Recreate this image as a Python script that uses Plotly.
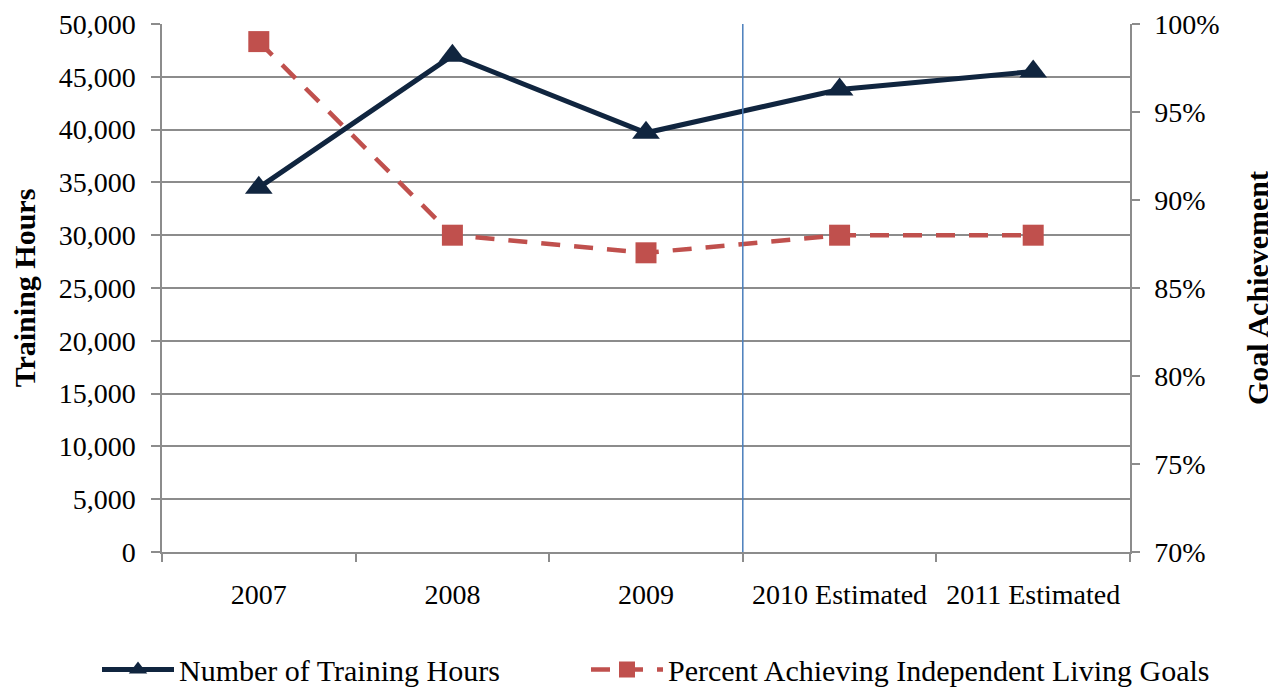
import plotly.graph_objects as go

categories = ["2007", "2008", "2009", "2010 Estimated", "2011 Estimated"]
training_hours = [34500, 47000, 39700, 43800, 45500]
goal_pct = [0.99, 0.88, 0.87, 0.88, 0.88]

FONT = "Liberation Serif, Times New Roman, serif"
NAVY = "#10253f"
RED = "#c0504d"
GRID = "#8c8c8c"

fig = go.Figure()
fig.add_trace(go.Scatter(
    x=categories, y=training_hours, name="Number of Training Hours",
    mode="lines+markers",
    line=dict(color=NAVY, width=5),
    marker=dict(symbol="triangle-up", size=24, color=NAVY),
    yaxis="y", legend="legend",
))
fig.add_trace(go.Scatter(
    x=categories, y=goal_pct, name="Percent Achieving Independent Living Goals",
    mode="lines+markers",
    line=dict(color=RED, width=4.5, dash="19px,14px"),
    marker=dict(symbol="square", size=21, color=RED),
    yaxis="y2", legend="legend2",
))

fig.add_shape(type="line", xref="x", yref="paper", x0=2.5, x1=2.5, y0=0, y1=1,
              line=dict(color="#4a7ebb", width=1.5))

legend_common = dict(orientation="h", xref="container", yref="container",
                     xanchor="left", y=0.037, yanchor="middle",
                     font=dict(family=FONT, size=30, color="black"),
                     itemwidth=72, bgcolor="rgba(0,0,0,0)")

fig.update_layout(
    width=1276, height=687,
    margin=dict(l=154, r=154, t=16, b=143, autoexpand=False),
    paper_bgcolor="white", plot_bgcolor="white",
    font=dict(family=FONT, size=28, color="black"),
    showlegend=True,
    legend=dict(x=89 / 1276, **legend_common),
    legend2=dict(x=578 / 1276, **legend_common),
    xaxis=dict(
        type="category", range=[-0.5, 4.5], automargin=False,
        showgrid=False, showline=True, linecolor=GRID, linewidth=1.5,
        ticks="outside", tickson="boundaries", ticklen=8, tickcolor=GRID, tickwidth=1.5,
        ticklabelstandoff=17,
        tickfont=dict(family=FONT, size=28),
    ),
    yaxis=dict(
        range=[0, 50000], dtick=5000, tickformat=",", automargin=False,
        showgrid=True, gridcolor=GRID, gridwidth=1.5,
        showline=True, linecolor=GRID, linewidth=1.5,
        ticks="outside", ticklen=9, tickcolor=GRID, tickwidth=1.5,
        ticklabelstandoff=10,
        zeroline=False,
        tickfont=dict(family=FONT, size=28),
        title=dict(text="<b>Training Hours</b>", font=dict(family=FONT, size=30), standoff=20),
    ),
    yaxis2=dict(
        overlaying="y", side="right", automargin=False,
        range=[0.70, 1.00], dtick=0.05, tickformat=".0%",
        showgrid=False, showline=True, linecolor=GRID, linewidth=1.5,
        ticks="outside", ticklen=8, tickcolor=GRID, tickwidth=1.5,
        ticklabelstandoff=9,
        zeroline=False,
        tickfont=dict(family=FONT, size=28),
        title=dict(text="<b>Goal Achievement</b>", font=dict(family=FONT, size=30), standoff=28),
    ),
)

fig.write_html("out.html")
